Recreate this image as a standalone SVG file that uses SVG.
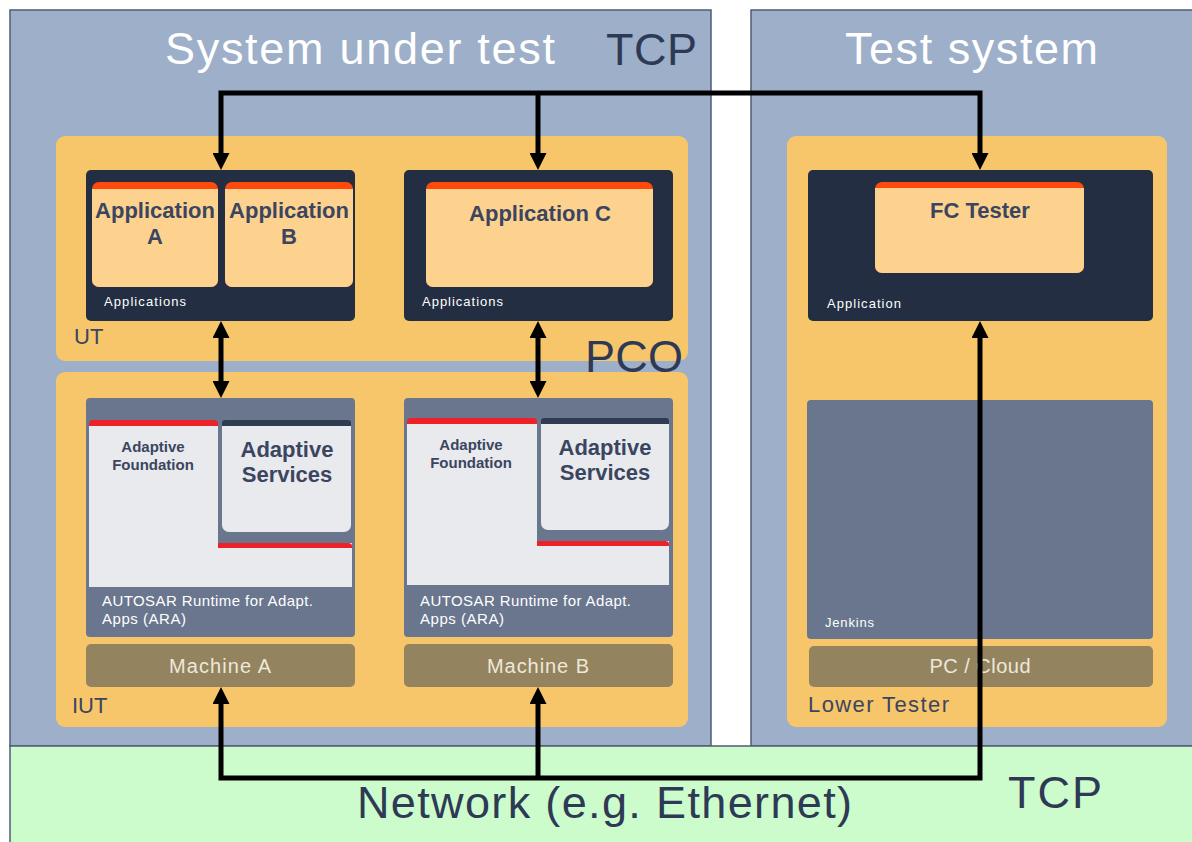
<svg xmlns="http://www.w3.org/2000/svg" width="1192" height="842" viewBox="0 0 1192 842">
<defs>
<marker id="ah" markerUnits="userSpaceOnUse" markerWidth="17" markerHeight="17" refX="9" refY="8.5" orient="auto-start-reverse" viewBox="0 0 17 17">
<path d="M0,0 L17,8.5 L0,17 z" fill="#000"/>
</marker>
<style>
.panel{fill:#9DAFC9;stroke:#4E5D75;stroke-width:1.5}
.net{fill:#CCFCCB;stroke:#4E5D75;stroke-width:1.5}
.orange{fill:#F8C66A}
.dark{fill:#232E42}
.app{fill:#FDD28F}
.stripe{fill:#FF4A0E}
.ara{fill:#69768E}
.white{fill:#E8EAEE}
.red{fill:#EE2128}
.svcstripe{fill:#2E3B52}
.machine{fill:#94835F}
text{font-family:"Liberation Sans",Arial,sans-serif}
.title{fill:#fff;font-size:45px}
.big{fill:#2E3A55;font-size:45px}
.lbl{fill:#3B4560;font-size:22px}
.appt{fill:#3B4560;font-size:22px;font-weight:bold;text-anchor:middle}
.small{fill:#fff;font-size:13px}
.found{fill:#3B4560;font-size:15px;font-weight:bold;text-anchor:middle}
.arat{fill:#fff;font-size:15px}
.mach{fill:#EDE8DA;font-size:20px;text-anchor:middle}
.conn{fill:none;stroke:#000;stroke-width:5}
</style>
</defs>

<g id="sut-panel">
<rect class="panel" x="10" y="10" width="701" height="736"/>
<text class="title" x="165" y="64" textLength="390">System under test</text>
<text class="big" x="606" y="65" textLength="91">TCP</text>
</g>

<g id="test-panel">
<rect class="panel" x="751" y="10" width="445" height="736"/>
<text class="title" x="845" y="64" textLength="253">Test system</text>
</g>

<g id="network">
<rect class="net" x="10" y="746" width="1186" height="100"/>
<text class="big" x="357" y="818" textLength="495">Network (e.g. Ethernet)</text>
<text class="big" x="1008" y="808" textLength="94">TCP</text>
</g>

<g id="ut">
<rect class="orange" x="56" y="136" width="632" height="225" rx="9"/>
<text class="lbl" x="74" y="344">UT</text>
</g>

<g id="iut">
<rect class="orange" x="56" y="372" width="632" height="355" rx="9"/>
<text class="lbl" x="72" y="713">IUT</text>
</g>

<g id="lower-tester">
<rect class="orange" x="787" y="136" width="380" height="591" rx="9"/>
<text class="lbl" x="808" y="712" textLength="141">Lower Tester</text>
</g>

<g id="applications-ab">
<rect class="dark" x="86" y="170" width="269" height="151" rx="5"/>
<text class="small" x="104" y="306" textLength="82">Applications</text>
</g>

<g id="application-a">
<rect class="stripe" x="92" y="182" width="126" height="105" rx="7"/>
<rect class="app" x="92" y="189" width="126" height="98" rx="7"/>
<rect class="app" x="92" y="189" width="126" height="12"/>
<text class="appt" x="155" y="218">Application</text>
<text class="appt" x="155" y="244">A</text>
</g>

<g id="application-b">
<rect class="stripe" x="225" y="182" width="128" height="105" rx="7"/>
<rect class="app" x="225" y="189" width="128" height="98" rx="7"/>
<rect class="app" x="225" y="189" width="128" height="12"/>
<text class="appt" x="289" y="218">Application</text>
<text class="appt" x="289" y="244">B</text>
</g>

<g id="applications-c">
<rect class="dark" x="404" y="170" width="269" height="151" rx="5"/>
<text class="small" x="422" y="306" textLength="81">Applications</text>
</g>

<g id="application-c">
<rect class="stripe" x="426" y="182" width="227" height="105" rx="7"/>
<rect class="app" x="426" y="189" width="227" height="98" rx="7"/>
<rect class="app" x="426" y="189" width="227" height="12"/>
<text class="appt" x="540" y="221">Application C</text>
</g>

<g id="application-fc">
<rect class="dark" x="808" y="170" width="345" height="151" rx="5"/>
<text class="small" x="827" y="308" textLength="74">Application</text>
</g>

<g id="fc-tester">
<rect class="stripe" x="875" y="182" width="209" height="91" rx="7"/>
<rect class="app" x="875" y="188" width="209" height="85" rx="7"/>
<rect class="app" x="875" y="188" width="209" height="12"/>
<text class="appt" x="980" y="218">FC Tester</text>
</g>

<g id="ara-a">
<rect class="ara" x="86" y="398" width="269" height="239" rx="4"/>
<path class="white" d="M89,424 H218 V543 H352 V587 H89 Z"/>
<path class="red" d="M89,426 V424 Q89,420 93,420 H214 Q218,420 218,424 V426 Z"/>
<path class="red" d="M218,548 V543 H348 Q352,543 352,546 V548 Z"/>
<text class="found" x="153" y="452">Adaptive</text>
<text class="found" x="153" y="470">Foundation</text>
<text class="arat" x="102" y="606" textLength="211">AUTOSAR Runtime for Adapt.</text>
<text class="arat" x="102" y="624" textLength="84">Apps (ARA)</text>
</g>

<g id="services-a">
<rect class="svcstripe" x="222" y="420" width="129" height="12" rx="3"/>
<rect class="white" x="222" y="426" width="129" height="106" rx="7"/>
<rect class="white" x="222" y="426" width="129" height="10"/>
<text class="appt" x="287" y="457">Adaptive</text>
<text class="appt" x="287" y="482">Services</text>
</g>

<g id="machine-a">
<rect class="machine" x="86" y="644" width="269" height="43" rx="5"/>
<text class="mach" x="220" y="673" textLength="102">Machine A</text>
</g>

<g id="ara-b">
<rect class="ara" x="404" y="398" width="269" height="239" rx="4"/>
<path class="white" d="M407,422 H537 V541 H669 V585 H407 Z"/>
<path class="red" d="M407,424 V422 Q407,418 411,418 H533 Q537,418 537,422 V424 Z"/>
<path class="red" d="M537,546 V541 H665 Q669,541 669,544 V546 Z"/>
<text class="found" x="471" y="450">Adaptive</text>
<text class="found" x="471" y="468">Foundation</text>
<text class="arat" x="420" y="606" textLength="211">AUTOSAR Runtime for Adapt.</text>
<text class="arat" x="420" y="624" textLength="84">Apps (ARA)</text>
</g>

<g id="services-b">
<rect class="svcstripe" x="541" y="418" width="128" height="12" rx="3"/>
<rect class="white" x="541" y="424" width="128" height="106" rx="7"/>
<rect class="white" x="541" y="424" width="128" height="10"/>
<text class="appt" x="605" y="455">Adaptive</text>
<text class="appt" x="605" y="480">Services</text>
</g>

<g id="machine-b">
<rect class="machine" x="404" y="644" width="269" height="43" rx="5"/>
<text class="mach" x="538" y="673" textLength="102">Machine B</text>
</g>

<g id="jenkins">
<rect class="ara" x="807" y="400" width="346" height="239" rx="4"/>
<text class="small" x="825" y="627" textLength="49">Jenkins</text>
</g>

<g id="pc-cloud">
<rect class="machine" x="809" y="646" width="344" height="41" rx="5"/>
<text class="mach" x="980" y="673" textLength="101">PC / Cloud</text>
</g>

<g id="pco">
<text class="big" x="585" y="372" textLength="98">PCO</text>
</g>

<g id="connectors">
<path class="conn" d="M221,162 V93 H980 V162" marker-start="url(#ah)" marker-end="url(#ah)"/>
<path class="conn" d="M538,93 V162" marker-end="url(#ah)"/>
<path class="conn" d="M221,329 V390" marker-start="url(#ah)" marker-end="url(#ah)"/>
<path class="conn" d="M538,329 V390" marker-start="url(#ah)" marker-end="url(#ah)"/>
<path class="conn" d="M221,695 V778 H980 V329" marker-start="url(#ah)" marker-end="url(#ah)"/>
<path class="conn" d="M538,778 V695" marker-end="url(#ah)"/>
</g>
</svg>
